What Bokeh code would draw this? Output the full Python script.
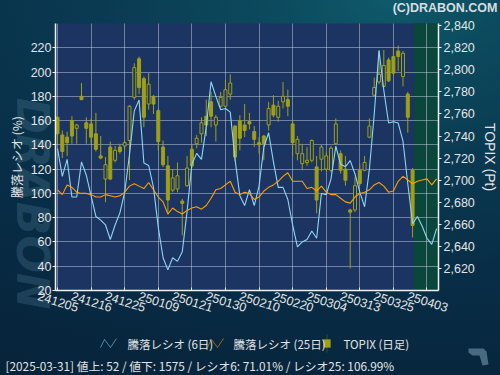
import numpy as np
from bokeh.plotting import figure
from bokeh.models import (Range1d, LinearAxis, FixedTicker, NumeralTickFormatter, Grid,
                          BoxAnnotation, PolyAnnotation, Label, ColumnDataSource,
                          GlobalInlineStyleSheet)
from bokeh.embed import file_html
from bokeh.resources import INLINE

# ---------------- data ----------------
dates = ["241205", "241206", "241209", "241210", "241211", "241212", "241213", "241216",
         "241217", "241218", "241219", "241220", "241223", "241224", "241225", "241226",
         "241227", "241230",
         "250106", "250107", "250108", "250109", "250110", "250114", "250115", "250116",
         "250117", "250120", "250121", "250122", "250123", "250124", "250127", "250128",
         "250129", "250130", "250131",
         "250203", "250204", "250205", "250206", "250207", "250210", "250212", "250213",
         "250214", "250217", "250218", "250219", "250220", "250221", "250225", "250226",
         "250227", "250228",
         "250303", "250304", "250305", "250306", "250307", "250310", "250311", "250312",
         "250313", "250314", "250317", "250318", "250319", "250321", "250324", "250325",
         "250326", "250327", "250328", "250331",
         "250401", "250402", "250403", "250404", "250407"]

ratio6 = [137, 114, 128, 97, 97, 126, 115, 98, 81, 78,
          74, 62, 74, 84, 101, 132, 168, 177, 125, 123,
          105, 72, 47, 37, 47, 44, 52, 85, 124, 133,
          128, 155, 192, 180, 169, 170, 167, 128, 98, 90,
          103, 90, 106, 138, 150, 126, 105, 105, 95, 74,
          56, 60, 62, 69, 63, 100, 99, 112, 139, 124,
          122, 127, 116, 101, 89, 120, 165, 218, 185, 158,
          159, 158, 143, 108, 75, 81, 73, 63, 58, 71]

ratio25 = [103, 99, 107, 105, 101, 100, 100, 99, 97, 97,
           99, 98, 97, 98, 101, 106, 108, 106, 104, 109,
           103, 97, 93, 83, 88, 85, 83, 86, 88, 89,
           87, 90, 96, 103, 104, 107, 110, 101, 99, 101,
           100, 95, 97, 102, 105, 107, 110, 114, 117, 110,
           110, 110, 104, 105, 102, 106, 101, 99, 99, 96,
           93, 92, 97, 100, 101, 103, 107, 109, 106, 101,
           102, 110, 114, 111, 108, 110, 111, 112, 107, 112]

topix_open = [2757, 2741, 2739, 2754, 2747, 2776, 2752, 2751, 2742, 2722,
              2701, 2730, 2718, 2730, 2731, 2736, 2775, 2810, 2792, 2769,
              2776, 2763, 2730, 2713, 2691, 2692, 2681, 2695, 2728, 2733,
              2742, 2758, 2771, 2750, 2767, 2767, 2778, 2749, 2754, 2750,
              2753, 2744, 2734, 2740, 2750, 2768, 2757, 2771, 2773, 2751,
              2724, 2715, 2716, 2718, 2712, 2719, 2710, 2709, 2733, 2724,
              2710, 2673, 2673, 2709, 2709, 2739, 2777, 2789, 2785, 2809,
              2812, 2817, 2794, 2778, 2709]
topix_high = [2758, 2745, 2744, 2758, 2751, 2788, 2757, 2756, 2761, 2740,
              2721, 2735, 2731, 2733, 2736, 2768, 2806, 2812, 2794, 2797,
              2777, 2765, 2736, 2722, 2710, 2716, 2683, 2722, 2733, 2741,
              2757, 2773, 2780, 2759, 2780, 2791, 2796, 2750, 2759, 2769,
              2761, 2749, 2739, 2741, 2771, 2777, 2772, 2789, 2782, 2755,
              2740, 2733, 2730, 2737, 2722, 2732, 2725, 2731, 2756, 2727,
              2722, 2674, 2703, 2715, 2722, 2756, 2793, 2817, 2818, 2811,
              2820, 2822, 2817, 2780, 2711]
topix_low = [2733, 2720, 2722, 2733, 2733, 2773, 2733, 2733, 2726, 2719,
             2680, 2700, 2716, 2724, 2728, 2700, 2773, 2778, 2748, 2764,
             2760, 2727, 2712, 2671, 2689, 2689, 2650, 2694, 2711, 2729,
             2734, 2740, 2748, 2735, 2764, 2766, 2773, 2717, 2727, 2739,
             2746, 2730, 2724, 2718, 2745, 2757, 2753, 2765, 2758, 2722,
             2718, 2709, 2713, 2716, 2670, 2708, 2708, 2707, 2732, 2706,
             2695, 2620, 2671, 2695, 2708, 2738, 2776, 2787, 2784, 2789,
             2795, 2799, 2785, 2743, 2648]
topix_close = [2742, 2726, 2734, 2740, 2750, 2773, 2747, 2739, 2728, 2720,
               2714, 2701, 2727, 2726, 2734, 2767, 2802, 2784, 2757, 2787,
               2769, 2735, 2714, 2682, 2702, 2704, 2679, 2711, 2713, 2738,
               2752, 2750, 2758, 2757, 2775, 2782, 2788, 2721, 2738, 2745,
               2751, 2737, 2732, 2733, 2765, 2759, 2767, 2776, 2767, 2734,
               2737, 2724, 2718, 2736, 2682, 2730, 2722, 2729, 2751, 2709,
               2700, 2671, 2695, 2697, 2716, 2749, 2784, 2796, 2804, 2790,
               2797, 2812, 2815, 2757, 2659]

left_ticks = [20, 40, 60, 80, 100, 120, 140, 160, 180, 200, 220]
right_ticks = [2620, 2640, 2660, 2680, 2700, 2720, 2740, 2760, 2780, 2800, 2820, 2840]
date_tick_step = 7

legend_labels = ["騰落レシオ (6日)", "騰落レシオ (25日)", "TOPIX (日足)"]
status_text = "[2025-03-31]  値上: 52 / 値下: 1575 / レシオ6: 71.01% / レシオ25: 106.99%"

# ---------------- layout / styles ----------------
W, H = 500, 375
PL, PR, PT, PB = 55, 438, 23, 290          # plot box in pixels
XL, XR = -0.42, len(dates) - 0.6           # visible index range
YL0, YL1 = 20, 240                         # left axis range
YR0, YR1 = 2600, 2842                      # right axis range
LABEL_SHIFT = 4                            # x-label anchor shift (bars) to centre rotated labels

PLOT_BG = "#1b3462"
FUTURE_BG = "#0a463c"
OLIVE = "#a0a018"
BLUE = "#8fd6f4"
ORANGE = "#ffa000"
TXT = "#e4e4e4"
AXC = "#f0f0f0"
FONT = "Liberation Sans"
JFONT = "Noto Sans CJK JP"

kx = (PR - PL) / (XR - XL)
ky = (PB - PT) / (YL1 - YL0)
kr = (PB - PT) / (YR1 - YR0)

n_days = len(dates)
n_candles = len(topix_close)
xi = np.arange(n_days)
ci = np.arange(n_candles)

o = np.array(topix_open, float)
c = np.array(topix_close, float)
h = np.array(topix_high, float)
l = np.array(topix_low, float)
up = c >= o

src_up = ColumnDataSource(dict(x=ci[up], top=c[up], bottom=o[up]))
src_dn = ColumnDataSource(dict(x=ci[~up], top=o[~up], bottom=c[~up]))
src_w = ColumnDataSource(dict(x=ci, hi=h, lo=l))
src_r = ColumnDataSource(dict(x=xi, r6=ratio6, r25=ratio25))

p = figure(width=W, height=H, output_backend="svg", toolbar_location=None,
           x_axis_type=None, y_axis_type=None,
           x_range=Range1d(XL - PL / kx, XR + (W - PR) / kx),
           y_range=Range1d(YL0 - (H - PB) / ky, YL1 + PT / ky),
           min_border=0, background_fill_alpha=0.0, border_fill_alpha=0.0,
           outline_line_color=None)
p.extra_y_ranges = {"topix": Range1d(YR0 - (H - PB) / kr, YR1 + PT / kr)}
p.stylesheets = [GlobalInlineStyleSheet(css="""
html, body { background: radial-gradient(ellipse 170% 125% at 78% 0%, #0f5a6a 0%, #0c4a5e 14%, #0a3a52 34%, #082d46 60%, #062036 100%) !important; }
""")]

# faint site watermark on the left
p.add_layout(Label(x=32, y=H - 203, x_units="screen", y_units="screen", text="DRABON",
                   angle=-np.pi / 2, text_align="center", text_baseline="middle",
                   text_font="DejaVu Sans", text_font_size="44px", text_font_style="bold italic",
                   text_color="#6f9cb4", text_alpha=0.22, level="underlay"))

# plot area and future zone
p.add_layout(BoxAnnotation(left=XL, right=XR, bottom=YL0, top=YL1, fill_color=PLOT_BG,
                           fill_alpha=1.0, line_color=None, level="underlay"))
p.add_layout(BoxAnnotation(left=n_candles - 1 + 0.25, right=XR, bottom=YL0, top=YL1,
                           fill_color=FUTURE_BG, fill_alpha=1.0, line_color=None, level="underlay"))

tick_idx = list(range(0, n_days, date_tick_step))

# grids
xgrid = Grid(dimension=0, ticker=FixedTicker(ticks=tick_idx), cross_bounds=(YL0, YL1),
             grid_line_color="#c8cee0", grid_line_alpha=0.5)
ygrid = Grid(dimension=1, ticker=FixedTicker(ticks=left_ticks), cross_bounds=(XL, XR),
             grid_line_color="#c8cee0", grid_line_alpha=0.5)
p.add_layout(xgrid)
p.add_layout(ygrid)

# candles
p.segment(x0="x", y0="lo", x1="x", y1="hi", source=src_w, y_range_name="topix",
          line_color=OLIVE, line_width=1)
r_up = p.vbar(x="x", width=0.62, top="top", bottom="bottom", source=src_up, y_range_name="topix",
              fill_color=PLOT_BG, line_color=OLIVE, line_width=1)
r_dn = p.vbar(x="x", width=0.62, top="top", bottom="bottom", source=src_dn, y_range_name="topix",
              fill_color=OLIVE, line_color=OLIVE, line_width=1)

# ratio lines
r6 = p.line("x", "r6", source=src_r, line_color=BLUE, line_width=1.1)
r25 = p.line("x", "r25", source=src_r, line_color=ORANGE, line_width=1.1)

# axes (fixed at the plot box edges)
xax = LinearAxis(fixed_location=YL0, bounds=(XL, XR), ticker=FixedTicker(ticks=tick_idx),
                 axis_line_color=AXC, axis_line_width=1.5, major_tick_line_color=AXC,
                 major_tick_in=3, major_tick_out=0, minor_tick_line_color=None,
                 major_label_text_color=None)
p.add_layout(xax, "below")

lab_ticks = [i - LABEL_SHIFT for i in tick_idx]
xlab = LinearAxis(fixed_location=YL0, ticker=FixedTicker(ticks=lab_ticks),
                  major_label_overrides={t: dates[i] for t, i in zip(lab_ticks, tick_idx)},
                  axis_line_color=None, major_tick_line_color=None, minor_tick_line_color=None,
                  major_tick_in=0, major_tick_out=0, major_label_standoff=5,
                  major_label_orientation=-0.3, major_label_text_color=TXT,
                  major_label_text_font=FONT, major_label_text_font_size="12.5px")
p.add_layout(xlab, "below")

yax = LinearAxis(fixed_location=XL, bounds=(YL0, YL1), ticker=FixedTicker(ticks=left_ticks),
                 axis_line_color=AXC, axis_line_width=1.5, major_tick_line_color=AXC,
                 major_tick_in=0, major_tick_out=3, minor_tick_line_color=None,
                 major_label_standoff=1, major_label_text_color=TXT, major_label_text_font=FONT,
                 major_label_text_font_size="12.5px",
                 axis_label="騰落レシオ (%)", axis_label_text_font=JFONT,
                 axis_label_text_font_size="12px", axis_label_text_font_style="normal",
                 axis_label_text_color=TXT, axis_label_standoff=3)
p.add_layout(yax, "left")

rax = LinearAxis(y_range_name="topix", fixed_location=XR, bounds=(YR0, YR1),
                 ticker=FixedTicker(ticks=right_ticks), formatter=NumeralTickFormatter(format="0,0"),
                 axis_line_color=AXC, axis_line_width=1.5, major_tick_line_color=AXC,
                 major_tick_in=0, major_tick_out=3, minor_tick_line_color=None,
                 major_label_standoff=2, major_label_text_color=TXT, major_label_text_font=FONT,
                 major_label_text_font_size="12.5px",
                 axis_label="TOPIX (Pt)", axis_label_text_font=FONT,
                 axis_label_text_font_size="14px", axis_label_text_font_style="normal",
                 axis_label_text_color=TXT, axis_label_standoff=4)
p.add_layout(rax, "right")

# ---- legend row (zig-zag line keys and a small candle key, as in the reference) ----
LEG_Y = H - 343   # row centre, screen units from the bottom


def zigzag(x0, color):
    xs = [x0, x0 + 4, x0 + 10, x0 + 16, x0 + 10, x0 + 4]
    ys = [LEG_Y - 4, LEG_Y + 4, LEG_Y - 4, LEG_Y + 5, LEG_Y - 4, LEG_Y + 4]
    return PolyAnnotation(xs=xs, ys=ys, xs_units="screen", ys_units="screen",
                          fill_alpha=0, line_color=color, line_width=1)


p.add_layout(zigzag(100, BLUE))
p.add_layout(zigzag(207, ORANGE))
p.add_layout(PolyAnnotation(xs=[326.5, 326.5], ys=[LEG_Y + 9, LEG_Y - 9], xs_units="screen",
                            ys_units="screen", fill_alpha=0, line_color=OLIVE, line_width=1))
p.add_layout(BoxAnnotation(left=323, right=330, bottom=LEG_Y - 4, top=LEG_Y + 4,
                           left_units="screen", right_units="screen",
                           bottom_units="screen", top_units="screen",
                           fill_color=OLIVE, fill_alpha=1.0, line_color=OLIVE))
for lx, lab in zip([127, 233, 343], legend_labels):
    p.add_layout(Label(x=lx, y=LEG_Y, x_units="screen", y_units="screen", text=lab,
                       text_color=TXT, text_font=JFONT, text_font_size="11.5px",
                       text_baseline="middle"))

# small site logo at the bottom right
p.add_layout(PolyAnnotation(xs=[468, 483, 486, 488, 482, 479, 472, 468],
                            ys=[H - 348, H - 348, H - 351, H - 364, H - 365, H - 355, H - 355, H - 352],
                            xs_units="screen", ys_units="screen",
                            fill_color="#5d8198", fill_alpha=0.75, line_color=None))

p.add_layout(Label(x=5, y=10, x_units="screen", y_units="screen", text=status_text,
                   text_color=TXT, text_font=JFONT, text_font_size="11.8px",
                   text_baseline="middle"))
p.add_layout(Label(x=497, y=H - 7, x_units="screen", y_units="screen", text="(C)DRABON.COM",
                   text_color="#d8dde0", text_font=FONT, text_font_size="12.5px",
                   text_font_style="bold", text_align="right", text_baseline="middle"))

open("out.html", "w").write(file_html(p, INLINE))
